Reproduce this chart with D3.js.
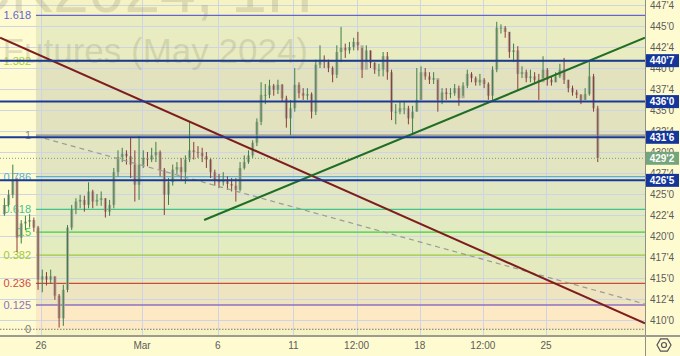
<!DOCTYPE html>
<html>
<head>
<script src="https://d3js.org/d3.v7.min.js"></script>
<style>
  body { margin: 0; background: #fffbd0; }
  svg { display: block; }
  text { font-family: "Liberation Sans", "DejaVu Sans", sans-serif; }
</style>
</head>
<body>
<svg id="chart" width="680" height="356"></svg>
<script>
// ---- data (hourly-ish bars, 6 per trading day) ----
var startOpen = 422.6;
var closes = [423.7,424.9,426.7,419.8,421.5,421.7,421.9,421.0,414.8,415.2,414.8,415.2,412.9,410.2,413.6,421.0,423.1,424.1,424.3,423.7,
  425.3,424.1,424.3,424.5,422.9,423.7,427.6,429.4,429.8,429.5,428.5,426.1,428.5,429.3,429.1,429.6,430.0,427.9,424.9,426.4,
  427.9,428.2,427.6,429.1,430.2,430.0,429.9,429.5,429.1,427.6,426.7,426.4,426.7,426.2,426.0,425.5,428.1,428.8,429.6,431.1,
  433.6,436.8,436.8,437.9,437.4,438.0,436.4,434.0,435.2,438.0,437.0,436.7,436.9,434.8,440.4,441.0,440.7,440.0,439.2,441.9,
  442.4,442.1,442.5,443.1,442.7,439.8,442.1,440.6,439.8,439.8,441.4,439.5,434.8,434.8,435.2,435.2,434.0,434.8,436.2,439.5,
  439.0,438.6,438.8,436.2,437.1,436.9,437.0,437.6,436.4,437.9,439.3,438.8,438.3,438.6,438.1,436.7,439.8,444.8,444.8,444.3,
  441.9,442.1,439.3,439.5,438.8,439.0,438.6,438.3,439.8,438.6,438.3,439.0,439.8,438.6,437.6,437.1,436.8,436.2,436.9,439.0,
  435.2,429.3];
var highs = [424.5,425.5,428.5,426.9,421.9,422.4,422.6,422.2,421.2,416.0,415.7,416.0,415.2,413.1,414.2,421.3,423.7,424.5,424.9,424.8,
  426.4,425.5,425.0,425.3,424.5,424.3,428.1,430.2,430.5,430.2,431.8,430.2,431.9,430.2,430.0,430.5,431.2,430.2,428.1,426.9,
  428.5,428.8,429.3,429.6,433.6,431.2,430.7,430.5,430.0,429.3,427.9,427.4,427.6,427.1,426.9,426.9,428.8,429.6,430.2,431.4,
  434.0,438.3,438.1,438.6,438.1,438.6,438.1,436.7,436.2,440.0,438.3,437.6,437.6,437.1,441.0,442.7,441.5,441.0,440.2,442.7,
  444.9,442.9,443.1,443.6,444.3,442.4,442.7,442.1,440.7,440.5,441.9,441.9,439.8,435.7,436.0,436.0,435.5,435.5,440.0,440.2,
  440.0,439.5,439.5,438.6,437.6,437.6,437.6,438.1,437.9,438.3,439.8,439.5,439.0,439.3,438.8,438.3,440.2,445.5,445.2,445.0,
  444.3,442.9,442.6,440.2,439.8,439.8,439.5,439.3,441.4,440.0,439.0,439.5,440.5,441.2,438.6,437.9,437.4,436.9,437.6,440.7,
  439.3,435.5];
var lows = [422.4,423.5,424.5,418.1,419.1,420.7,421.0,420.5,413.6,413.3,414.1,414.3,412.4,409.1,409.3,413.3,420.7,422.6,423.3,422.9,
  423.3,423.3,423.6,423.6,422.2,422.4,423.3,427.1,428.8,428.5,426.9,424.1,424.3,428.1,428.3,428.8,428.8,427.1,422.5,423.7,
  426.0,427.4,426.7,426.2,428.8,429.1,429.3,428.8,428.1,426.9,426.0,425.7,426.0,425.5,425.3,424.1,425.3,427.9,428.6,429.3,
  430.7,433.2,435.7,436.4,436.7,436.9,436.0,432.9,432.0,434.8,436.4,436.2,436.2,434.0,434.4,440.0,440.0,439.5,438.3,438.8,
  440.7,441.2,441.7,442.1,442.1,438.8,440.7,440.0,439.3,439.0,439.0,438.6,433.8,433.3,434.5,434.5,433.3,432.1,434.8,436.2,
  438.6,438.1,438.1,434.8,435.7,436.2,436.4,436.7,435.5,436.7,437.6,438.3,437.9,437.9,437.6,436.2,436.2,439.5,444.1,443.6,
  441.2,440.7,437.4,438.8,438.3,438.3,438.1,436.2,438.8,437.9,437.9,438.3,438.8,438.1,437.1,436.7,436.4,435.7,436.2,436.7,
  434.8,428.8];
var barStart = -1.45;          // first bar, in trading days from Feb 26
var barsPerDay = 6;

var fibLow = 408.9, fibHigh = 432.0, fibStartDay = -0.2;
var fibRatios = [0, 0.125, 0.236, 0.382, 0.5, 0.618, 0.786, 1, 1.382, 1.618];
var fibLabels = ["0", "0.125", "0.236", "0.382", "0.5", "0.618", "0.786", "1", "1.382", "1.618"];
var fibColors = ["#7a7a7a", "#8d70c4", "#d04a3c", "#9cc83c", "#3fcf3f", "#3fc48e", "#5aaedc", "#8a8a8a", "#a6d03a", "#6464d2"];
var fibFills = ["#fdeac4", "#efe4c0", "#e5eabe", "#e3ecbf", "#e2eac1", "#e1e7c3", "#e3e5c0", "#e2e3be", "#e9ecc0"];

var levels = [440.875, 436, 431.75, 426.625];
var levelLabels = ["440'7", "436'0", "431'6", "426'5"];
var lastPrice = 429.25, lastLabel = "429'2";

var priceTicks = [410, 412.5, 415, 417.5, 420, 422.5, 425, 427.5, 430, 432.5, 435, 437.5, 440, 442.5, 445, 447.5];
var timeTicks = [0, 4, 7, 10, 12.5, 15, 17.5, 20];
var timeLabels = ["26", "Mar", "6", "11", "12:00", "18", "12:00", "25"];

// trend lines: [day, price] pairs
var trendDown = [[-1.62, 443.6], [23.92, 409.6]];
var trendUp = [[6.46, 421.9], [23.92, 443.6]];
var trendDash = [[-0.2, 431.9], [23.92, 411.9]];

// ---- drawing ----
var svg = d3.select("#chart");
var W = 680, H = 356, plotW = 645, plotH = 335;

var x = d3.scaleLinear([-1.6238, 23.921], [0, plotW]);
var y = d3.scaleLinear([445, 410], [26, 320]);

function fmt(p) {
    var i = Math.floor(p);
    return i + "'" + Math.round((p - i) * 8);
}

svg.append("rect").attr("width", W).attr("height", H).attr("fill", "#fffbd0");

var plot = svg.append("g");
plot.append("clipPath").attr("id", "clip")
    .append("rect").attr("width", plotW).attr("height", plotH);
var g = plot.append("g").attr("clip-path", "url(#clip)");

// area right of fib start above 1.618
g.append("rect").attr("x", x(fibStartDay)).attr("y", 0)
    .attr("width", plotW - x(fibStartDay)).attr("height", plotH)
    .attr("fill", "#f6f3c2");

var fibPrice = r => fibLow + r * (fibHigh - fibLow);

// fib fills
g.selectAll("rect.fill")
    .data(fibFills)
    .join("rect")
    .attr("class", "fill")
    .attr("x", x(fibStartDay))
    .attr("y", (d, i) => y(fibPrice(fibRatios[i + 1])))
    .attr("width", plotW - x(fibStartDay))
    .attr("height", (d, i) => y(fibPrice(fibRatios[i])) - y(fibPrice(fibRatios[i + 1])))
    .attr("fill", d => d);

// grid
g.selectAll("line.hgrid")
    .data(priceTicks)
    .join("line")
    .attr("x1", 0).attr("x2", plotW)
    .attr("y1", d => Math.round(y(d)) + 0.5).attr("y2", d => Math.round(y(d)) + 0.5)
    .attr("stroke", "#cdd5e4").attr("stroke-width", 1);

g.selectAll("line.vgrid")
    .data(timeTicks)
    .join("line")
    .attr("x1", d => Math.round(x(d)) + 0.5).attr("x2", d => Math.round(x(d)) + 0.5)
    .attr("y1", 0).attr("y2", plotH)
    .attr("stroke", "#cdd5e4").attr("stroke-width", 1);

// watermark
g.append("text").attr("x", 313).attr("y", 12)
    .attr("text-anchor", "end").attr("font-size", 64)
    .attr("fill", "#8c8c70").attr("fill-opacity", 0.25)
    .text("ZCK2024, 1H");
g.append("text").attr("x", 308).attr("y", 63)
    .attr("text-anchor", "end").attr("font-size", 35)
    .attr("fill", "#8c8c70").attr("fill-opacity", 0.25)
    .text("Corn Futures (May 2024)");

// fib lines + labels
g.selectAll("line.fib")
    .data(fibRatios)
    .join("line")
    .attr("x1", (d, i) => i == 0 ? 0 : x(fibStartDay)).attr("x2", plotW)
    .attr("y1", d => y(fibPrice(d))).attr("y2", d => y(fibPrice(d)))
    .attr("stroke", (d, i) => fibColors[i])
    .attr("stroke-width", (d, i) => i == 0 ? 1.2 : 1.3)
    .attr("stroke-dasharray", (d, i) => i == 0 ? "1.5,1.5" : null);

g.selectAll("text.fib")
    .data(fibRatios)
    .join("text")
    .attr("x", 31)
    .attr("y", d => y(fibPrice(d)))
    .attr("dy", "0.35em")
    .attr("text-anchor", "end")
    .attr("font-size", 11)
    .attr("fill", (d, i) => fibColors[i])
    .text((d, i) => fibLabels[i]);

// candles
var bars = closes.map((c, i) => ({
    t: barStart + i / barsPerDay,
    o: i == 0 ? startOpen : closes[i - 1],
    h: highs[i], l: lows[i], c: c
}));

var candle = g.selectAll("g.bar")
    .data(bars)
    .join("g");

candle.append("rect")
    .attr("x", d => x(d.t) - 1.5)
    .attr("y", d => y(Math.max(d.o, d.c)))
    .attr("width", 3)
    .attr("height", d => Math.max(1, Math.abs(y(d.o) - y(d.c))))
    .attr("fill", "#a3a598").attr("fill-opacity", 0.85);

candle.append("line")
    .attr("x1", d => x(d.t)).attr("x2", d => x(d.t))
    .attr("y1", d => y(d.h)).attr("y2", d => y(d.l))
    .attr("stroke", d => d.c >= d.o ? "#3e7f45" : "#8e3a34")
    .attr("stroke-width", 1);

// last price dotted line
g.append("line")
    .attr("x1", 0).attr("x2", plotW)
    .attr("y1", y(lastPrice)).attr("y2", y(lastPrice))
    .attr("stroke", "#6f9f74").attr("stroke-width", 1)
    .attr("stroke-dasharray", "1,2");

// trend lines
var line = d3.line(d => x(d[0]), d => y(d[1]));
g.append("path").attr("d", line(trendDash))
    .attr("stroke", "#9a9a9a").attr("stroke-width", 1.2)
    .attr("stroke-dasharray", "5,4").attr("fill", "none");
g.append("path").attr("d", line(trendDown))
    .attr("stroke", "#7e1d1d").attr("stroke-width", 2).attr("fill", "none");
g.append("path").attr("d", line(trendUp))
    .attr("stroke", "#1f6e22").attr("stroke-width", 2).attr("fill", "none");

// horizontal levels
g.selectAll("line.level")
    .data(levels)
    .join("line")
    .attr("x1", 0).attr("x2", plotW)
    .attr("y1", d => y(d)).attr("y2", d => y(d))
    .attr("stroke", "#1a3a96").attr("stroke-width", 2);

// ---- axes ----
svg.append("rect").attr("x", plotW).attr("y", 0)
    .attr("width", W - plotW).attr("height", H).attr("fill", "#fffbd0");
svg.append("rect").attr("x", 0).attr("y", plotH)
    .attr("width", W).attr("height", H - plotH).attr("fill", "#fffbd0");

svg.append("line").attr("x1", plotW + 0.5).attr("x2", plotW + 0.5)
    .attr("y1", 0).attr("y2", H).attr("stroke", "#8f8f86").attr("stroke-width", 1);
svg.append("line").attr("x1", 0).attr("x2", W)
    .attr("y1", plotH + 1).attr("y2", plotH + 1).attr("stroke", "#9b9b92").attr("stroke-width", 2);

svg.selectAll("text.ptick")
    .data(priceTicks)
    .join("text")
    .attr("x", 650)
    .attr("y", d => y(d))
    .attr("dy", "0.35em")
    .attr("font-size", 10)
    .attr("fill", "#5c5c5c")
    .text(d => fmt(d));

svg.selectAll("text.ttick")
    .data(timeTicks)
    .join("text")
    .attr("x", d => x(d))
    .attr("y", 349)
    .attr("text-anchor", "middle")
    .attr("font-size", 10)
    .attr("fill", "#5c5c5c")
    .text((d, i) => timeLabels[i]);

// level label boxes
var boxes = svg.selectAll("g.lbl")
    .data(levels.map((p, i) => ({p: p, t: levelLabels[i], c: "#14369a"}))
        .concat([{p: lastPrice, t: lastLabel, c: "#74a57c"}]))
    .join("g");
boxes.append("rect")
    .attr("x", plotW + 1).attr("y", d => y(d.p) - 6.5)
    .attr("width", 33).attr("height", 13)
    .attr("fill", d => d.c);
boxes.append("text")
    .attr("x", plotW + 17).attr("y", d => y(d.p))
    .attr("dy", "0.35em").attr("text-anchor", "middle")
    .attr("font-size", 10).attr("font-weight", "bold")
    .attr("fill", "#fff")
    .text(d => d.t);

// settings icon
var hex = d3.range(6).map(k => [664 + 7 * Math.cos(Math.PI / 3 * k), 345 + 7 * Math.sin(Math.PI / 3 * k)]);
svg.append("polygon").attr("points", hex.join(" "))
    .attr("fill", "none").attr("stroke", "#555").attr("stroke-width", 1.2);
svg.append("circle").attr("cx", 664).attr("cy", 345).attr("r", 2.5)
    .attr("fill", "none").attr("stroke", "#555").attr("stroke-width", 1.2);
</script>
</body>
</html>
